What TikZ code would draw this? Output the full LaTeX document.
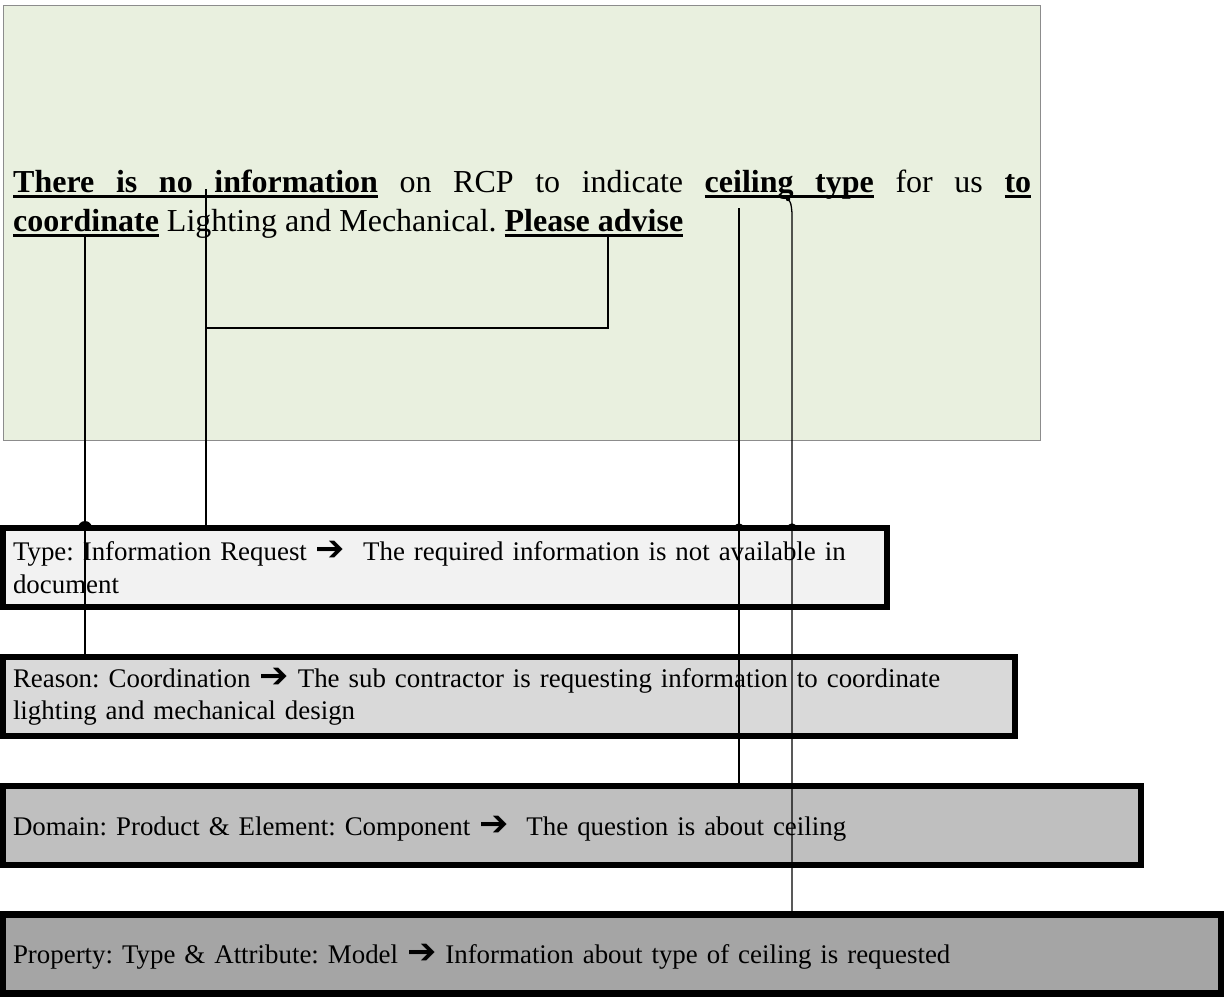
\documentclass[tikz,border=0pt]{standalone}
\usepackage{fontspec}
\setmainfont{Liberation Serif}
\newfontfamily\arrowfont{DejaVu Sans}
\newcommand{\rarrow}{{\arrowfont\fontsize{35}{35}\selectfont\char"2794}}
% underlined word and underlined (stretchable) space
\newcommand{\ulword}[1]{\setbox0\hbox{#1}\rlap{\vrule height -3.3pt depth 6.3pt width\wd0}\box0}
\newcommand{\ulsp}{\leaders\hrule height -3.3pt depth 6.3pt\hskip\fontdimen2\font plus\fontdimen3\font minus\fontdimen4\font}
\frenchspacing

\definecolor{notefill}{HTML}{E9F0DF}
\definecolor{noteedge}{HTML}{8C8C8C}
\definecolor{typefill}{HTML}{F2F2F2}
\definecolor{reasonfill}{HTML}{D9D9D9}
\definecolor{domainfill}{HTML}{BFBFBF}
\definecolor{propfill}{HTML}{A5A5A5}

\tikzset{
  catbox/.style={draw=black, line width=6.5pt, anchor=north west, outer sep=0pt,
    minimum height=79pt, inner xsep=10pt, inner ysep=0pt, align=left,
    font=\fontsize{26.9}{32.5}\selectfont},
  oneline/.style={text depth=0pt},
  msgline/.style={anchor=base west, inner sep=0pt, font=\fontsize{32}{39}\selectfont},
  link/.style={draw=black, line width=1.3pt},
  hop/.style={draw=black, line width=1.3pt},
}

\begin{document}
\begin{tikzpicture}[x=1pt,y=-1pt]
\useasboundingbox (0,0) rectangle (1225,996);

% request text panel
\node[draw=noteedge, fill=notefill, line width=1pt, anchor=north west, outer sep=0pt,
  minimum width=1037pt, minimum height=435pt, inner sep=0pt] (note) at (3,5) {};
\node[msgline] (msg1) at (13,192)
  {\hbox to 1018pt{{\bfseries\ulword{There}\ulsp\ulword{is}\ulsp\ulword{no}\ulsp\ulword{information}}
   on RCP to indicate {\bfseries\ulword{ceiling}\ulsp\ulword{type}} for us {\bfseries\ulword{to}}}};
\node[msgline] (msg2) at (13,231)
  {{\bfseries\ulword{coordinate}} Lighting and Mechanical. {\bfseries\ulword{Please}\ulsp\ulword{advise}}};

% word anchors in the request text
\coordinate (w-info) at (206,189);
\coordinate (w-coord) at (85,237);
\coordinate (w-advise) at (608,237);
\coordinate (w-ceiling) at (739,208);
\coordinate (w-type) at (788,199);
\coordinate (join) at (206,328);

% classification boxes
\node[catbox, fill=typefill, text width=864pt] (type) at (3,528)
  {Type: Information Request \rarrow\ \ The required information is not available in\\document};
\node[catbox, fill=reasonfill, text width=992pt] (reason) at (3,657)
  {Reason: Coordination \rarrow\ The sub contractor is requesting information to coordinate\\lighting and mechanical design};
\node[catbox, oneline, fill=domainfill, text width=1118pt] (domain) at (3,786)
  {Domain: Product \& Element: Component \rarrow\ \ The question is about ceiling};
\node[catbox, oneline, fill=propfill, text width=1198pt] (prop) at (3,914.5)
  {Property: Type \& Attribute: Model \rarrow\ Information about type of ceiling is requested};

% connectors
\draw[link] (w-info) -- (w-info |- type.north);
\draw[link] (w-advise) |- (join);
\draw[link] (w-coord) -- (w-coord |- reason.north);
\fill (78,528) arc (180:360:7) -- cycle;
\draw[link] (w-ceiling) -- (w-ceiling |- domain.north);
\draw[hop] (735,528) arc (180:360:4);
\draw[link] (w-type) .. controls (791,203) .. (792,213) -- (792,914.5);
\fill (w-type) circle (2.2);
\draw[hop] (788,528) arc (180:360:4);
\end{tikzpicture}
\end{document}
